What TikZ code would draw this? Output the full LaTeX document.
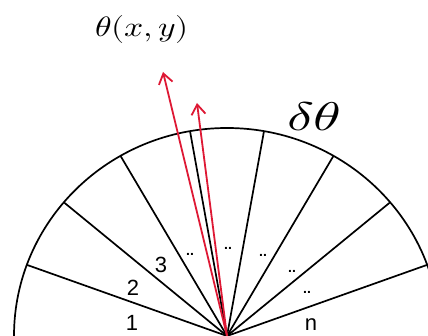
\documentclass[tikz,border=0pt]{standalone}
\usepackage{fontspec}
\usepackage{unicode-math}
\setmathfont{Latin Modern Math}
\usepackage{graphicx}
\usetikzlibrary{arrows.meta,calc}
\newfontfamily\lsans{Liberation Sans}
\definecolor{arrred}{RGB}{222,24,52}
\begin{document}
\begin{tikzpicture}[x=1pt,y=1pt,
  spoke/.style={draw=black,line width=1.7pt},
  redarrow/.style={draw=arrred,line width=1.8pt,-{Straight Barb[length=10pt,width=14pt,line width=1.8pt]}},
  numlab/.style={font=\lsans\fontsize{22}{22}\selectfont,inner sep=0pt},
  dotlab/.style={font=\lsans\bfseries\fontsize{14}{14}\selectfont,inner sep=0pt}]
\useasboundingbox (0,0) rectangle (428,336);
\clip (0,0) rectangle (428,336);
\coordinate (O) at (227,0);
% outer arc
\draw[line width=1.7pt] (O) ++(213,0) arc[start angle=0,end angle=180,x radius=213,y radius=208];
% spokes
\foreach \a in {20,40,60,80,100,120,140,160}{
  \coordinate (s\a) at ($(O)+({213*cos(\a)},{208*sin(\a)})$);
}
\foreach \a in {20,40,60,80,100,120,140,160}{
  \draw[spoke] (O) -- (s\a);
}
% red arrows
\coordinate (t1) at (163,264);
\coordinate (t2) at (197,233);
\draw[redarrow] (O) -- (t1);
\draw[redarrow] (O) -- (t2);
% labels
\node (theta) at (142,306) {\scalebox{1.2}[1]{\fontsize{28}{28}\selectfont$\theta(x,y)$}};
\node (dtheta) at (314,220) {\scalebox{1.4}[1]{\fontsize{40}{40}\selectfont$\delta\theta$}};
\node[numlab] (n1) at (132,13) {1};
\node[numlab] (n2) at (133,48) {2};
\node[numlab] (n3) at (161,71) {3};
\node[numlab,anchor=south] (nn) at (311,5) {n};
\node[dotlab] (d1) at (190,82) {..};
\node[dotlab] (d2) at (228,88) {..};
\node[dotlab] (d3) at (263,81) {..};
\node[dotlab] (d4) at (292,65) {..};
\node[dotlab] (d5) at (307,44) {..};
\end{tikzpicture}
\end{document}
